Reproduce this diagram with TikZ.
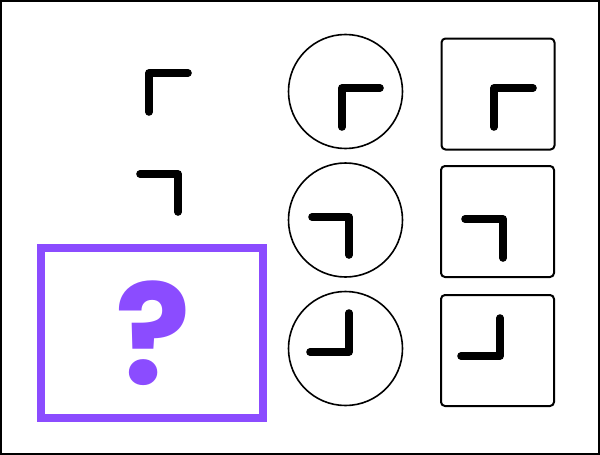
\documentclass[tikz,border=0pt]{standalone}
\usepackage{fontspec}
\usepackage{xcolor}
\usepackage{tikz}
\usetikzlibrary{positioning}
\newfontfamily\qfont{Poppins}[UprightFont=* Bold]
\definecolor{quizpurple}{RGB}{139,76,255}

\begin{document}
\begin{tikzpicture}[x=1pt, y=-1pt,
  ring/.style={draw, circle, line width=1.6pt, minimum size=114pt, inner sep=0pt},
  tile/.style={draw, rounded corners=4pt, line width=2pt, minimum width=113pt,
               minimum height=111pt, inner sep=0pt},
  tick/.style={line width=7.6pt, line cap=round, line join=round},
  slot/.style={draw=quizpurple, line width=7.5pt, minimum width=222pt,
               minimum height=170pt, inner sep=0pt},
]
  \useasboundingbox (0,0) rectangle (600,455);
  \draw[line width=2pt] (1,1) rectangle (599,454);

  % Row examples
  \draw[tick] (149,112) -- (149,73) -- (188,73);
  \draw[tick] (140,174) -- (178,174) -- (178,212);

  % Circle options
  \node[ring] (c1) at (345.5,91.5) {};
  \node[ring] (c2) at (345.5,220) {};
  \node[ring] (c3) at (345.5,348.5) {};
  \draw[tick] (342,127) -- (342,88) -- (380,88);
  \draw[tick] (312,217) -- (349,217) -- (349,255);
  \draw[tick] (349,313) -- (349,352) -- (310,352);

  % Square options
  \node[tile] (s1) at (498,94) {};
  \node[tile] (s2) at (497.5,221.5) {};
  \node[tile] (s3) at (497.5,350.5) {};
  \draw[tick] (494,127) -- (494,88) -- (533,88);
  \draw[tick] (465,219) -- (503,219) -- (503,258);
  \draw[tick] (500,318) -- (500,356) -- (461,356);

  % Missing cell
  \node[slot] (gap) at (152,333) {};
  \node[text=quizpurple, font=\qfont\fontsize{140}{140}\selectfont,
        inner sep=0pt] (ask) at (153,333) {?};
\end{tikzpicture}
\end{document}
